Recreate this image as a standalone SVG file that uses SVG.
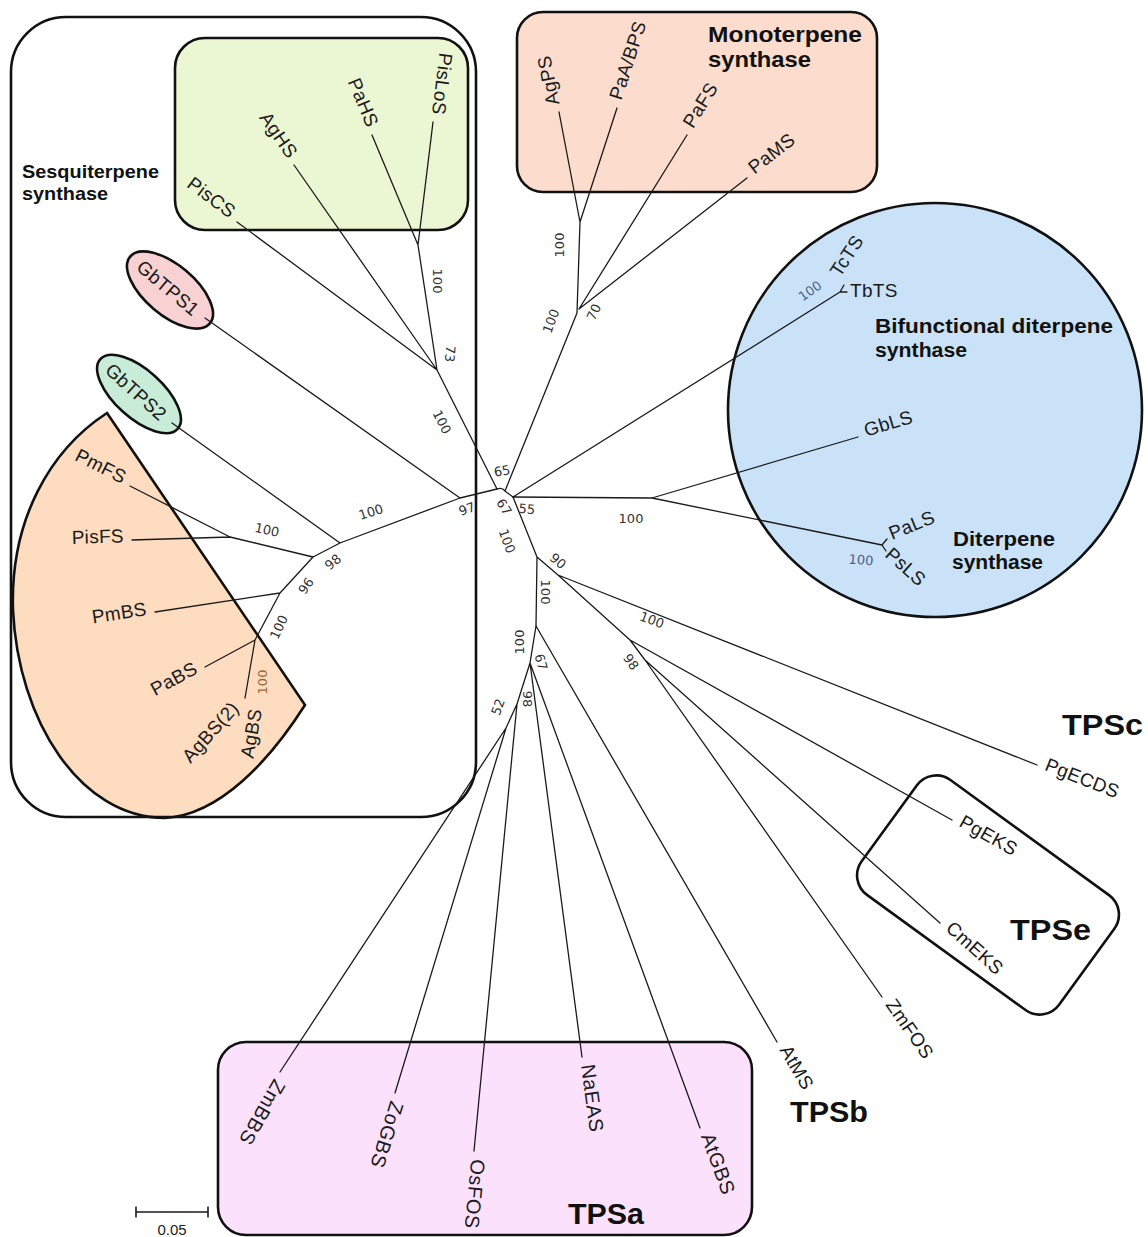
<svg xmlns="http://www.w3.org/2000/svg" width="1148" height="1237" viewBox="0 0 1148 1237">
<style>
.br{stroke:#1a1a1a;stroke-width:1.3;fill:none;stroke-linecap:round;stroke-linejoin:round}
.box{stroke:#111;stroke-width:2.6}
.lf{font-family:"Liberation Sans",Arial,sans-serif;font-size:19px;fill:#1a1a1a;letter-spacing:0.3px}
.la{font-size:20px;letter-spacing:0.6px}
.bs{font-family:"DejaVu Sans",sans-serif;font-size:13px;fill:#333;text-anchor:middle;dominant-baseline:central}
.grp{font-family:"Liberation Sans",Arial,sans-serif;font-weight:bold;fill:#111}
.tps{font-family:"Liberation Sans",Arial,sans-serif;font-weight:bold;fill:#111;font-size:30px}
</style>
<rect width="1148" height="1237" fill="#fff"/>

<g id="clade-hs">
<rect class="box" x="175" y="38" width="293" height="192" rx="30" fill="#ebf6d3"/>
</g>
<g id="clade-bs">
<path class="box" d="M107,413 L305,705 C270,760 220,815 165,818 C80,818 18,720 13,610 C10,520 50,450 107,413 Z" fill="#fddcc0"/>
</g>
<g id="clade-sesqui">
<rect class="box" x="11" y="17" width="465" height="800" rx="55" fill="none"/>
<text class="grp" x="22" y="178" font-size="19" textLength="137" lengthAdjust="spacingAndGlyphs">Sesquiterpene</text>
<text class="grp" x="22" y="200" font-size="19" textLength="86" lengthAdjust="spacingAndGlyphs">synthase</text>
</g>
<g id="clade-mono">
<rect class="box" x="517" y="12" width="360" height="180" rx="26" fill="#fcddcd"/>
<text class="grp" x="708" y="42" font-size="22" textLength="154" lengthAdjust="spacingAndGlyphs">Monoterpene</text>
<text class="grp" x="708" y="67" font-size="22" textLength="103" lengthAdjust="spacingAndGlyphs">synthase</text>
</g>
<g id="clade-di">
<circle class="box" cx="935" cy="410" r="207" fill="#c9e2f8"/>
<text class="grp" x="875" y="333" font-size="20" textLength="238" lengthAdjust="spacingAndGlyphs">Bifunctional diterpene</text>
<text class="grp" x="875" y="357" font-size="20" textLength="92" lengthAdjust="spacingAndGlyphs">synthase</text>
<text class="grp" x="953" y="546" font-size="20" textLength="102" lengthAdjust="spacingAndGlyphs">Diterpene</text>
<text class="grp" x="952" y="569" font-size="20" textLength="91" lengthAdjust="spacingAndGlyphs">synthase</text>
</g>
<g id="clade-tpse">
<rect class="box" x="-122" y="-71" width="244" height="142" rx="24" fill="none" transform="translate(988,895) rotate(36)"/>
<text class="tps" x="1010" y="940" textLength="81" lengthAdjust="spacingAndGlyphs">TPSe</text>
</g>
<g id="clade-tpsa">
<rect class="box" x="218" y="1042" width="534" height="193" rx="28" fill="#fbe1fb"/>
<text class="tps" x="568" y="1224" textLength="76" lengthAdjust="spacingAndGlyphs">TPSa</text>
</g>
<g id="clade-tpsb"><text class="tps" x="790" y="1122" textLength="78" lengthAdjust="spacingAndGlyphs">TPSb</text></g>
<g id="clade-tpsc"><text class="tps" x="1062" y="735" textLength="81" lengthAdjust="spacingAndGlyphs">TPSc</text></g>

<g id="node-GbTPS1">
<ellipse class="box" cx="170" cy="290" rx="52" ry="25" transform="rotate(40 170 290)" fill="#f8d2d2"/>
<text class="lf" text-anchor="middle" dominant-baseline="central" transform="translate(168,288) rotate(40)">GbTPS1</text>
</g>
<g id="node-GbTPS2">
<ellipse class="box" cx="139" cy="394" rx="52" ry="24" transform="rotate(42 139 394)" fill="#c9ecd9"/>
<text class="lf" text-anchor="middle" dominant-baseline="central" transform="translate(136,392) rotate(42)">GbTPS2</text>
</g>

<g id="connectors">
<path class="br" d="M372,135 L418,245 M433,122 L418,245 M418,245 L437,370 M294,165 L437,370 M237,222 L437,370 M437,370 L497,489"/>
<path class="br" d="M205,318 L460,498 L497,489 M172,423 L340,543 L460,498 M340,543 L313,557 L280,593 L255,640 M313,557 L230,537 M130,486 L230,537 M132,540 L230,537 M155,612 L280,593 M205,667 L255,640 M245,698 L255,640"/>
<path class="br" d="M497,489 Q502,487 505,491 L513,497 M505,491 L577,313 L580,222 M580,222 L559,112 M580,222 L617,108 M579,309 L687,135 M579,309 L747,178"/>
<path class="br" d="M513,497 L840,292 M840,292 L844,285 M840,292 L847,292 M513,497 L652,498 M652,498 L858,437 M652,498 L882,545 M882,545 L887,539 M882,545 L886,551"/>
<path class="br" d="M513,497 L537,557 L536,626 M537,557 L558,575 L1037,765 M558,575 L630,640 L952,820 M630,640 L645,660 L940,923 M645,660 L882,997"/>
<path class="br" d="M536,626 L777,1042 M536,626 L530,663 L582,1057 M530,663 L700,1128 M530,663 L517,704 L474,1151 M517,704 L506,728 L280,1072 M506,728 L395,1093"/>
</g>

<g id="leaves">
<g id="leaf-PisCS"><text class="lf" text-anchor="end" transform="translate(237,222) rotate(36.7)" x="-8" y="2">PisCS</text></g>
<g id="leaf-AgHS"><text class="lf" text-anchor="end" transform="translate(294,165) rotate(55.2)" x="-8" y="2">AgHS</text></g>
<g id="leaf-PaHS"><text class="lf" text-anchor="end" transform="translate(372,135) rotate(67.3)" x="-8" y="2">PaHS</text></g>
<g id="leaf-PisLoS"><text class="lf" text-anchor="end" transform="translate(433,122) rotate(97)" x="-8" y="2">PisLoS</text></g>
<g id="leaf-PmFS"><text class="lf" text-anchor="end" transform="translate(130,486) rotate(27)" x="-8" y="2">PmFS</text></g>
<g id="leaf-PisFS"><text class="lf" text-anchor="end" transform="translate(132,540) rotate(-1.8)" x="-8" y="2">PisFS</text></g>
<g id="leaf-PmBS"><text class="lf" text-anchor="end" transform="translate(155,612) rotate(-8.6)" x="-8" y="2">PmBS</text></g>
<g id="leaf-PaBS"><text class="lf" text-anchor="end" transform="translate(205,667) rotate(-28.4)" x="-8" y="2">PaBS</text></g>
<g id="leaf-AgBS2"><text class="lf" text-anchor="end" transform="translate(240,709) rotate(-48)">AgBS(2)</text></g>
<g id="leaf-AgBS"><text class="lf" text-anchor="end" transform="translate(262,710) rotate(-80)">AgBS</text></g>
<g id="leaf-AgPS"><text class="lf" transform="translate(559,112) rotate(-100.8)" x="8" y="2">AgPS</text></g>
<g id="leaf-PaABPS"><text class="lf" transform="translate(617,108) rotate(-72)" x="8" y="2">PaA/BPS</text></g>
<g id="leaf-PaFS"><text class="lf" transform="translate(687,135) rotate(-58.2)" x="8" y="2">PaFS</text></g>
<g id="leaf-PaMS"><text class="lf" transform="translate(747,178) rotate(-37.6)" x="8" y="2">PaMS</text></g>
<g id="leaf-TcTS"><text class="lf" font-size="18" transform="translate(840,278) rotate(-57)">TcTS</text></g>
<g id="leaf-TbTS"><text class="lf" font-size="18" transform="translate(850,297)">TbTS</text></g>
<g id="leaf-GbLS"><text class="lf" transform="translate(858,437) rotate(-16.5)" x="8" y="2">GbLS</text></g>
<g id="leaf-PaLS"><text class="lf" transform="translate(892,540) rotate(-22)">PaLS</text></g>
<g id="leaf-PsLS"><text class="lf" transform="translate(884,556) rotate(42)">PsLS</text></g>
<g id="leaf-PgECDS"><text class="lf" transform="translate(1037,765) rotate(21.7)" x="8" y="2">PgECDS</text></g>
<g id="leaf-PgEKS"><text class="lf" transform="translate(952,820) rotate(29.2)" x="8" y="2">PgEKS</text></g>
<g id="leaf-CmEKS"><text class="lf" transform="translate(940,923) rotate(41.7)" x="8" y="2">CmEKS</text></g>
<g id="leaf-ZmFOS"><text class="lf" transform="translate(882,997) rotate(54.9)" x="8" y="2">ZmFOS</text></g>
<g id="leaf-AtMS"><text class="lf" transform="translate(777,1042) rotate(59.9)" x="8" y="2">AtMS</text></g>
<g id="leaf-AtGBS"><text class="lf la" transform="translate(700,1128) rotate(70)" x="8" y="2">AtGBS</text></g>
<g id="leaf-NaEAS"><text class="lf la" transform="translate(582,1057) rotate(82.5)" x="8" y="2">NaEAS</text></g>
<g id="leaf-OsFOS"><text class="lf la" transform="translate(474,1151) rotate(95.5)" x="8" y="2">OsFOS</text></g>
<g id="leaf-ZoGBS"><text class="lf la" transform="translate(395,1093) rotate(107.5)" x="8" y="2">ZoGBS</text></g>
<g id="leaf-ZmBBS"><text class="lf la" transform="translate(280,1072) rotate(120)" x="8" y="2">ZmBBS</text></g>
</g>

<g id="bootstrap">
<text class="bs" transform="translate(437,281) rotate(90)">100</text>
<text class="bs" transform="translate(450,354) rotate(95)">73</text>
<text class="bs" transform="translate(442,422) rotate(63)">100</text>
<text class="bs" transform="translate(502,471) rotate(-10)">65</text>
<text class="bs" transform="translate(467,509) rotate(-20)">97</text>
<text class="bs" transform="translate(504,507) rotate(58)">67</text>
<text class="bs" transform="translate(527,509) rotate(5)">55</text>
<text class="bs" transform="translate(631,518)">100</text>
<text class="bs" transform="translate(507,541) rotate(70)">100</text>
<text class="bs" transform="translate(558,561) rotate(40)">90</text>
<text class="bs" transform="translate(545,592) rotate(90)">100</text>
<text class="bs" transform="translate(652,620) rotate(20)">100</text>
<text class="bs" transform="translate(631,662) rotate(55)">98</text>
<text class="bs" transform="translate(519,642) rotate(-90)">100</text>
<text class="bs" transform="translate(541,662) rotate(75)">67</text>
<text class="bs" transform="translate(527,699) rotate(90)">98</text>
<text class="bs" transform="translate(498,707) rotate(-70)">52</text>
<text class="bs" transform="translate(551,321) rotate(-70)">100</text>
<text class="bs" transform="translate(594,312) rotate(-65)">70</text>
<text class="bs" transform="translate(559,245) rotate(-90)">100</text>
<text class="bs" transform="translate(371,512) rotate(-18)">100</text>
<text class="bs" transform="translate(267,530) rotate(12)">100</text>
<text class="bs" transform="translate(333,562) rotate(-40)">98</text>
<text class="bs" transform="translate(306,586) rotate(-55)">96</text>
<text class="bs" transform="translate(279,627) rotate(-65)">100</text>
<text class="bs" transform="translate(262,682) rotate(-90)" style="fill:#9b6b3b">100</text>
<text class="bs" transform="translate(810,291) rotate(-35)" style="fill:#4a6085">100</text>
<text class="bs" transform="translate(861,560) rotate(5)" style="fill:#4a6085">100</text>
</g>

<g id="scalebar">
<path class="br" d="M136,1212 L208,1212 M136,1207 L136,1217 M208,1207 L208,1217" style="stroke-width:1.6"/>
<text x="172" y="1235" text-anchor="middle" font-family="Liberation Sans, Arial, sans-serif" font-size="15" fill="#222">0.05</text>
</g>
</svg>
